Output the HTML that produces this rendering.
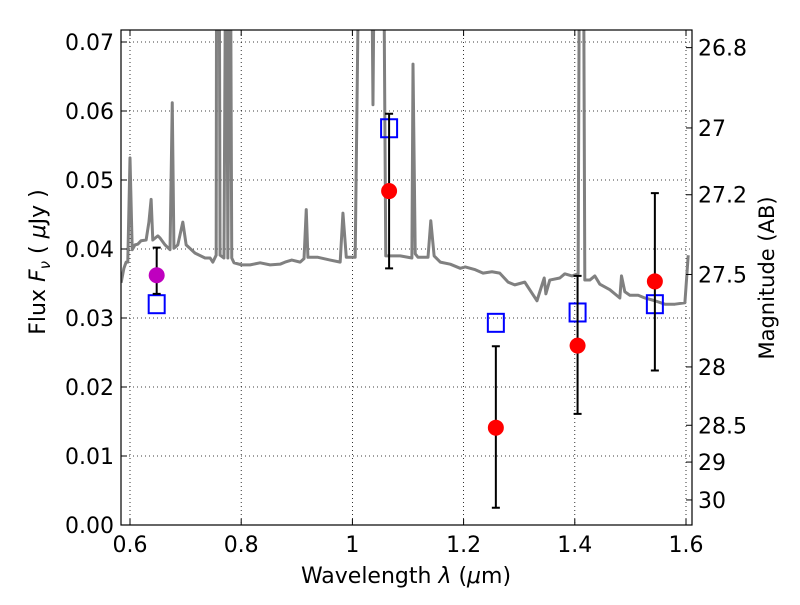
<!DOCTYPE html>
<html><head><meta charset="utf-8"><style>
body{margin:0;background:#fff}
svg text{font-family:"DejaVu Sans","Liberation Sans",sans-serif;fill:#000}
</style></head><body>
<svg id="chart" width="800" height="600">
<defs><clipPath id="clip"><rect x="121" y="30" width="571" height="495"/></clipPath></defs>
<g id="grid"></g>
<g id="spec" clip-path="url(#clip)"></g>
<g id="marks"></g>
<rect x="121" y="30" width="571" height="495" fill="none" stroke="#000" stroke-width="1.2"/>
<g id="axes"></g>
<text x="406" y="583" font-size="22" text-anchor="middle">Wavelength  <tspan font-style="italic">λ</tspan> (<tspan font-style="italic">μ</tspan>m)</text>
<text transform="translate(45,262) rotate(-90)" font-size="22" text-anchor="middle">Flux  <tspan font-style="italic">F</tspan><tspan font-size="15" font-style="italic" dy="5">ν</tspan><tspan dy="-5">  (  </tspan><tspan font-style="italic">μ</tspan>Jy )</text>
<text transform="translate(774,278) rotate(-90)" font-size="21" text-anchor="middle">Magnitude (AB)</text>
</svg>
<script>
const specW=[0.584,0.589,0.593,0.596,0.600,0.604,0.609,0.614,0.620,0.629,0.634,0.638,0.641,0.650,0.654,0.663,0.672,0.676,0.679,0.686,0.695,0.701,0.717,0.735,0.744,0.749,0.755,0.756,0.760,0.762,0.769,0.773,0.776,0.780,0.783,0.787,0.801,0.816,0.834,0.852,0.870,0.879,0.891,0.906,0.913,0.917,0.920,0.938,0.960,0.978,0.983,0.989,0.999,1.005,1.014,1.033,1.037,1.041,1.055,1.060,1.077,1.086,1.107,1.109,1.113,1.118,1.136,1.141,1.147,1.158,1.176,1.194,1.203,1.221,1.235,1.251,1.265,1.280,1.292,1.310,1.323,1.332,1.341,1.345,1.348,1.355,1.373,1.382,1.395,1.406,1.409,1.415,1.418,1.427,1.436,1.445,1.463,1.481,1.484,1.490,1.499,1.514,1.526,1.544,1.562,1.580,1.598,1.604];
const specF=[0.0351,0.0372,0.0381,0.0381,0.0532,0.0399,0.0406,0.0407,0.0412,0.0413,0.0439,0.0472,0.0413,0.0419,0.0416,0.0406,0.0399,0.0612,0.0401,0.0406,0.0439,0.0406,0.0394,0.0387,0.0387,0.0381,0.0391,0.1,0.1,0.0391,0.0387,0.1,0.0387,0.1,0.0387,0.0380,0.0377,0.0377,0.0380,0.0377,0.0378,0.0381,0.0384,0.0381,0.0386,0.0457,0.0388,0.0388,0.0384,0.0381,0.0452,0.0388,0.0388,0.0388,0.1,0.1,0.0609,0.1,0.1,0.0390,0.0390,0.0390,0.0387,0.0668,0.0393,0.0388,0.0388,0.0441,0.0390,0.0381,0.0378,0.0372,0.0374,0.0370,0.0365,0.0367,0.0365,0.0352,0.0348,0.0352,0.0336,0.0325,0.0348,0.0358,0.0335,0.0355,0.0358,0.0364,0.0361,0.0364,0.1,0.1,0.0355,0.0355,0.0361,0.0349,0.0341,0.0329,0.0361,0.0338,0.0333,0.0333,0.0329,0.0325,0.0320,0.0320,0.0322,0.0391];
const photW=[0.648,1.066,1.258,1.405,1.544];
const photF=[0.0362,0.0484,0.0141,0.0260,0.0353];
const errLo=[0.0335,0.0372,0.0025,0.0161,0.0224];
const errHi=[0.0402,0.0596,0.0259,0.0361,0.0481];
const modelF=[0.0320,0.0575,0.0293,0.0308,0.0320];
const photColors=["#bf00bf","#ff0000","#ff0000","#ff0000","#ff0000"];
const xTicks=[0.6,0.8,1.0,1.2,1.4,1.6];
const xTickLabels=["0.6","0.8","1","1.2","1.4","1.6"];
const yTicks=[0,0.01,0.02,0.03,0.04,0.05,0.06,0.07];
const yTickLabels=["0.00","0.01","0.02","0.03","0.04","0.05","0.06","0.07"];
const magTicks=[26.8,27,27.2,27.5,28,28.5,29,30];
const magTickLabels=["26.8","27","27.2","27.5","28","28.5","29","30"];

const X=w=>130+(w-0.6)*556;
const Y=f=>525-f*6900;
const NS="http://www.w3.org/2000/svg";
function mk(p,t,a){const e=document.createElementNS(NS,t);for(const k in a)e.setAttribute(k,a[k]);p.appendChild(e);return e;}
const grid=document.getElementById('grid'),axes=document.getElementById('axes'),spec=document.getElementById('spec'),marks=document.getElementById('marks');
xTicks.forEach((t,i)=>{
  const g=mk(grid,'line',{x1:X(t),x2:X(t),y1:30,y2:525,stroke:'#000','stroke-width':0.8,'stroke-dasharray':'1,3'});
  
  
  mk(axes,'line',{x1:X(t),x2:X(t),y1:525,y2:519,stroke:'#000'});
  mk(axes,'line',{x1:X(t),x2:X(t),y1:30,y2:36,stroke:'#000'});
  const l=mk(axes,'text',{x:X(t),y:552,'font-size':22,'text-anchor':'middle'});l.textContent=xTickLabels[i];
  
  
});
yTicks.forEach((t,i)=>{
  const g=mk(grid,'line',{x1:121,x2:692,y1:Y(t),y2:Y(t),stroke:'#000','stroke-width':0.8,'stroke-dasharray':'1,3'});
  
  
  mk(axes,'line',{x1:121,x2:127,y1:Y(t),y2:Y(t),stroke:'#000'});
  const l=mk(axes,'text',{x:114,y:Y(t)+8,'font-size':22,'text-anchor':'end'});l.textContent=yTickLabels[i];
  
  
});
magTicks.forEach((m,i)=>{
  const y=Y(Math.pow(10,-(m-23.9)/2.5));
  mk(axes,'line',{x1:686,x2:692,y1:y,y2:y,stroke:'#000'});
  const l=mk(axes,'text',{x:698,y:y+8,'font-size':22});l.textContent=magTickLabels[i];
  
  
});
const pl=mk(spec,'polyline',{points:specW.map((w,i)=>X(w)+','+Y(specF[i])).join(' '),fill:'none',stroke:'#808080','stroke-width':3,'stroke-linejoin':'round'});


photW.forEach((w,i)=>{
  const x=X(w);
  const s=mk(marks,'rect',{x:x-8,y:Y(modelF[i])-9,width:16,height:18,fill:'none',stroke:'#0000ff','stroke-width':2});
  
  
  const e=mk(marks,'path',{d:`M${x},${Y(errLo[i])}V${Y(errHi[i])}M${x-4},${Y(errLo[i])}h8M${x-4},${Y(errHi[i])}h8`,stroke:'#000','stroke-width':2,fill:'none'});
  
  
  const c=mk(marks,'ellipse',{cx:x,cy:Y(photF[i]),rx:8,ry:8,fill:photColors[i]});
  
  
});
</script>
</body></html>
